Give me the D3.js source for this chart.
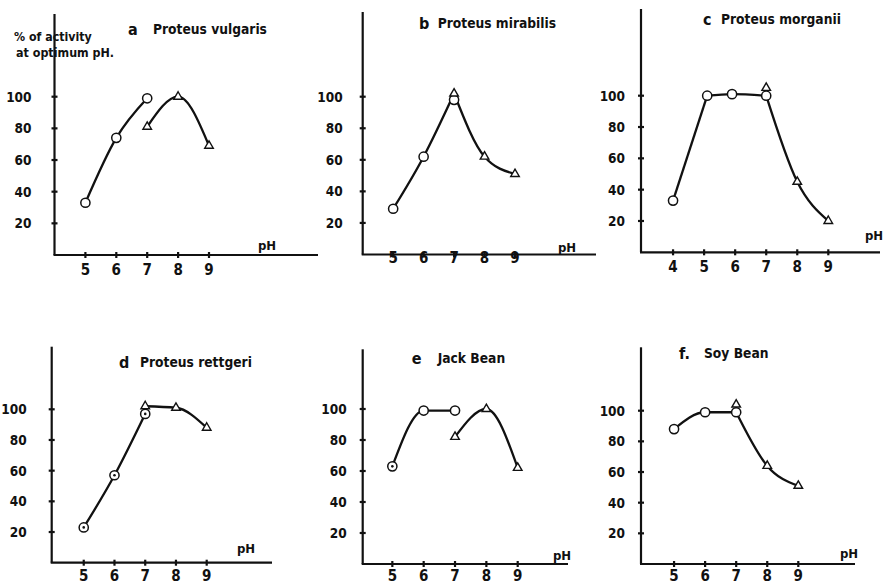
<!DOCTYPE html>
<html>
<head>
<meta charset="utf-8">
<script src="https://cdn.jsdelivr.net/npm/d3@7"></script>
<style>
  body { margin: 0; background: #fff; }
  svg { display: block; }
  text { font-family: "DejaVu Sans Condensed", "Liberation Sans Narrow", sans-serif; font-weight: bold; fill: #111; }
</style>
</head>
<body>
<svg id="chart" width="885" height="584"></svg>
<script>
const panelLetters = ["a", "b", "c", "d", "e", "f."];
const panelNames = ["Proteus vulgaris", "Proteus mirabilis", "Proteus morganii", "Proteus rettgeri", "Jack Bean", "Soy Bean"];
const xTickValues = [[5, 6, 7, 8, 9], [5, 6, 7, 8, 9], [4, 5, 6, 7, 8, 9], [5, 6, 7, 8, 9], [5, 6, 7, 8, 9], [5, 6, 7, 8, 9]];
const yTickValues = [20, 40, 60, 80, 100];

// open circles
const circlePH = [[5, 6, 7], [5, 6, 7], [4, 5.1, 5.9, 7], [5, 6, 7], [5, 6, 7], [5, 6, 7]];
const circleActivity = [[33, 74, 99], [29, 62, 98], [33, 100, 101, 100], [23, 57, 97], [63, 99, 99], [88, 99, 99]];
const circleDotted = [[0, 0, 0], [0, 0, 0], [0, 0, 0, 0], [1, 1, 1], [1, 0, 0], [0, 0, 0]];
// open triangles
const trianglePH = [[7, 8, 9], [7, 8, 9], [7, 8, 9], [7, 8, 9], [7, 8, 9], [7, 8, 9]];
const triangleActivity = [[81, 100, 69], [102, 62, 51], [105, 45, 20], [102, 101, 88], [82, 100, 62], [104, 64, 51]];
// which points each drawn curve passes through (o = circle, t = triangle)
const curvePoints = [
  [["o0", "o1", "o2"], ["t0", "t1", "t2"]],
  [["o0", "o1", "t0"], ["t0", "t1", "t2"]],
  [["o0", "o1"], ["o1", "o2", "o3"], ["o3", "t1", "t2"]],
  [["o0", "o1", "o2"], ["t0", "t1", "t2"]],
  [["o0", "o1", "o2"], ["t0", "t1", "t2"]],
  [["o0", "o1", "o2"], ["o2", "t1", "t2"]]
];

// placement of each panel on the page
const layout = [
  { ax: 54.5, xd: [4, 9], xr: [54.5, 209], y0: 255, y100: 96.7, top: 14, right: 318, yLab: 23, xLabY: 270,
    ph: [258, 245], letter: [128, 29], name: [153, 29] },
  { ax: 362.7, xd: [4, 9], xr: [362.7, 515], y0: 254.5, y100: 96.7, top: 12, right: 596, yLab: 20, xLabY: 258,
    ph: [558, 247], letter: [419, 23], name: [437.7, 23] },
  { ax: 641, xd: [3, 9], xr: [642, 828.3], y0: 252.3, y100: 95.7, top: 9, right: 880, yLab: 16, xLabY: 267,
    ph: [865, 235], letter: [703, 19], name: [721, 19] },
  { ax: 51.7, xd: [4, 9], xr: [53, 206.7], y0: 562.7, y100: 409.3, top: 346.7, right: 272, yLab: 25, xLabY: 575.5,
    ph: [237, 548], letter: [119, 362], name: [140, 362] },
  { ax: 362.7, xd: [4, 9], xr: [361, 517.7], y0: 564, y100: 409, top: 349.3, right: 568, yLab: 16, xLabY: 575.5,
    ph: [553, 555], letter: [411.7, 358], name: [437.7, 358] },
  { ax: 641, xd: [4, 9], xr: [643, 798.3], y0: 564, y100: 410.7, top: 347.3, right: 855, yLab: 16, xLabY: 575.5,
    ph: [840, 553], letter: [679, 353], name: [704, 353] }
];

const svg = d3.select("#chart");

layout.forEach((L, i) => {
  const g = svg.append("g");
  const x = d3.scaleLinear().domain(L.xd).range(L.xr);
  const y = d3.scaleLinear().domain([0, 100]).range([L.y0, L.y100]);

  // axes
  g.append("line").attr("x1", L.ax).attr("x2", L.ax).attr("y1", L.top).attr("y2", L.y0)
    .attr("stroke", "#111").attr("stroke-width", 2.2);
  g.append("line").attr("x1", L.ax - 1).attr("x2", L.right).attr("y1", L.y0).attr("y2", L.y0)
    .attr("stroke", "#111").attr("stroke-width", 2.2);

  g.selectAll(".yt").data(yTickValues).join("line")
    .attr("x1", L.ax - 3).attr("x2", L.ax + 3)
    .attr("y1", d => y(d)).attr("y2", d => y(d))
    .attr("stroke", "#111").attr("stroke-width", 2.2);
  g.selectAll(".ytl").data(yTickValues).join("text")
    .attr("x", L.ax - L.yLab).attr("y", d => y(d)).attr("dy", "0.36em")
    .attr("text-anchor", "end").attr("font-size", 13.5)
    .text(d => d);

  g.selectAll(".xt").data(xTickValues[i]).join("line")
    .attr("x1", d => x(d)).attr("x2", d => x(d))
    .attr("y1", L.y0 - 3).attr("y2", L.y0 + 3)
    .attr("stroke", "#111").attr("stroke-width", 2.2);
  g.selectAll(".xtl").data(xTickValues[i]).join("text")
    .attr("x", d => x(d)).attr("y", L.xLabY).attr("dy", "0.36em")
    .attr("text-anchor", "middle").attr("font-size", 15)
    .text(d => d);

  g.append("text").attr("x", L.ph[0]).attr("y", L.ph[1]).attr("dy", "0.36em")
    .attr("font-size", 13).text("pH");

  g.append("text").attr("x", L.letter[0]).attr("y", L.letter[1]).attr("dy", "0.36em")
    .attr("font-size", 16).text(panelLetters[i]);
  g.append("text").attr("x", L.name[0]).attr("y", L.name[1]).attr("dy", "0.36em")
    .attr("font-size", 13.7).text(panelNames[i]);

  // curves
  const pt = key => {
    const k = +key.slice(1);
    return key[0] === "o"
      ? [circlePH[i][k], circleActivity[i][k]]
      : [trianglePH[i][k], triangleActivity[i][k]];
  };
  const line = d3.line().x(d => x(d[0])).y(d => y(d[1])).curve(d3.curveMonotoneX);
  curvePoints[i].forEach(c => {
    g.append("path").attr("d", line(c.map(pt)))
      .attr("fill", "none").attr("stroke", "#111").attr("stroke-width", 2.3);
  });

  // markers
  const circles = circlePH[i].map((p, k) => ({ p, v: circleActivity[i][k], dot: circleDotted[i][k] }));
  g.selectAll(".c").data(circles).join("circle")
    .attr("cx", d => x(d.p)).attr("cy", d => y(d.v)).attr("r", 4.6)
    .attr("fill", "#fff").attr("stroke", "#111").attr("stroke-width", 1.5);
  g.selectAll(".cd").data(circles.filter(d => d.dot)).join("circle")
    .attr("cx", d => x(d.p)).attr("cy", d => y(d.v)).attr("r", 1.3).attr("fill", "#111");

  const tri = d3.symbol().type(d3.symbolTriangle).size(32);
  g.selectAll(".t").data(trianglePH[i].map((p, k) => ({ p, v: triangleActivity[i][k] }))).join("path")
    .attr("transform", d => `translate(${x(d.p)},${y(d.v)})`)
    .attr("d", tri)
    .attr("fill", "#fff").attr("stroke", "#111").attr("stroke-width", 1.4);
});

// y-axis title of the first panel
svg.append("text").attr("x", 14).attr("y", 37).attr("dy", "0.36em").attr("font-size", 12.3).text("% of activity");
svg.append("text").attr("x", 16).attr("y", 53).attr("dy", "0.36em").attr("font-size", 12.4).text("at optimum pH.");
</script>
</body>
</html>
